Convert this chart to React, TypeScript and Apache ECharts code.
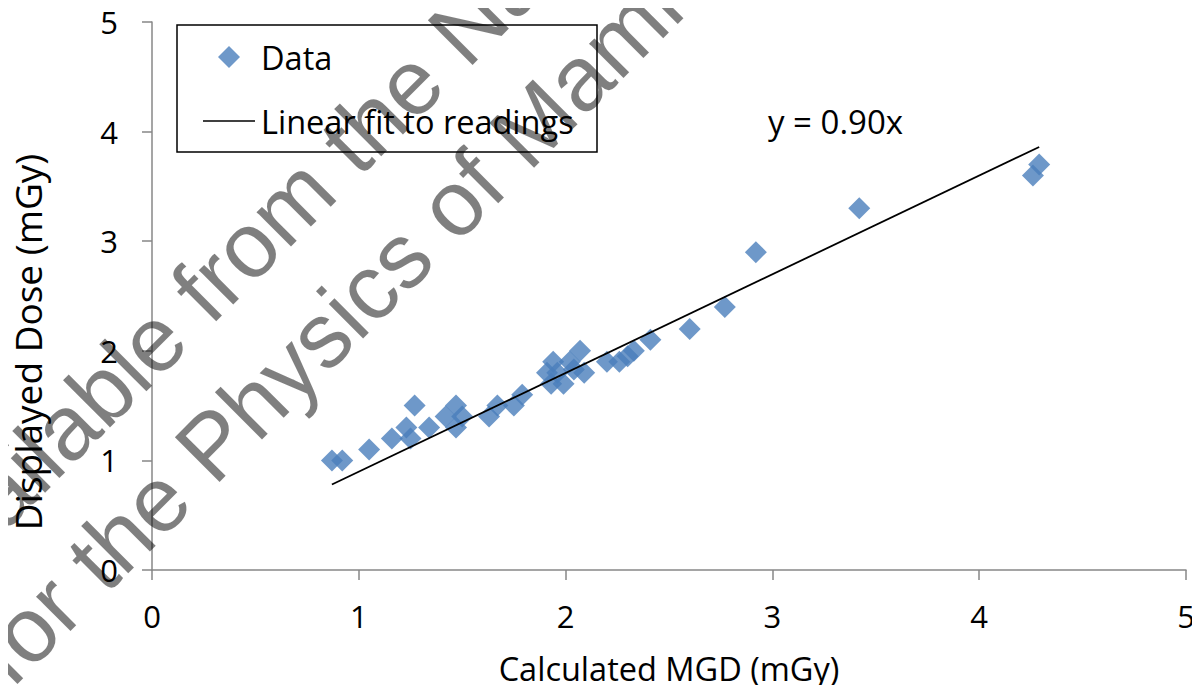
import React, { useEffect, useRef } from "react";
import * as echarts from "echarts";

const mgd = [0.87, 0.92, 1.05, 1.16, 1.23, 1.25, 1.27, 1.34, 1.42, 1.47, 1.47, 1.5, 1.63, 1.67, 1.75, 1.79, 1.91, 1.93, 1.94, 1.96, 1.99, 2.02, 2.04, 2.07, 2.09, 2.2, 2.26, 2.3, 2.33, 2.41, 2.6, 2.77, 2.92, 3.42, 4.26, 4.29];
const displayed = [1.0, 1.0, 1.1, 1.2, 1.3, 1.2, 1.5, 1.3, 1.4, 1.5, 1.3, 1.4, 1.4, 1.5, 1.5, 1.6, 1.8, 1.7, 1.9, 1.8, 1.7, 1.9, 1.83, 2.0, 1.8, 1.9, 1.9, 1.95, 2.0, 2.1, 2.2, 2.4, 2.9, 3.3, 3.6, 3.7];
const fitX = [0.87, 4.29];
const fitY = [0.78, 3.86];
const equationLabel = "y = 0.90x";
const xTitle = "Calculated MGD (mGy)";
const yTitle = "Displayed Dose (mGy)";
const watermark1 = "Available from the National Coordinating Centre";
const watermark2 = "for the Physics of Mammography";

const FONT = "'Open Sans', Lato, sans-serif";
const WM_FONT = "'Liberation Sans', Arial, sans-serif";

export default function App() {
  const ref = useRef<HTMLDivElement>(null);
  useEffect(() => {
    if (!ref.current) return;
    const chart = echarts.init(ref.current, null, { renderer: "svg" });
    const wmSize = 92;
    const rot = Math.PI / 4;
    const off = wmSize * 0.21 * Math.SQRT1_2;
    chart.setOption({
      animation: false,
      textStyle: { fontFamily: FONT },
      grid: { left: 152, right: 14, top: 22, bottom: 123, containLabel: false },
      legend: {
        orient: "vertical",
        left: 203,
        top: 40,
        padding: 0,
        itemWidth: 52,
        itemHeight: 22,
        itemGap: 30,
        symbolKeepAspect: true,
        textStyle: { fontFamily: FONT, fontSize: 32.5, color: "#000", lineHeight: 34, padding: [0, 0, 0, 1] },
        data: [
          { name: "Data", icon: "path://M0,-1L1,0L0,1L-1,0Z", itemStyle: { color: "#4A7EBB" } },
          { name: "Linear fit to readings", icon: "path://M0,0H52V1.6H0Z", itemStyle: { color: "#000" } },
        ],
      },
      xAxis: {
        type: "value",
        min: 0,
        max: 5,
        interval: 1,
        name: xTitle,
        nameLocation: "middle",
        nameGap: 82,
        nameTextStyle: { fontFamily: FONT, fontSize: 32.5, color: "#000" },
        axisLine: { lineStyle: { color: "#878787", width: 1.5 } },
        axisTick: { show: true, length: 10, lineStyle: { color: "#878787", width: 1.5 } },
        axisLabel: { fontFamily: FONT, fontSize: 31, color: "#000", margin: 30 },
        splitLine: { show: false },
      },
      yAxis: {
        type: "value",
        min: 0,
        max: 5,
        interval: 1,
        axisLine: { show: true, lineStyle: { color: "#878787", width: 1.5 } },
        axisTick: { show: true, length: 10, lineStyle: { color: "#878787", width: 1.5 } },
        axisLabel: { fontFamily: FONT, fontSize: 31, color: "#000", margin: 34 },
        splitLine: { show: false },
      },
      series: [
        {
          name: "Data",
          type: "scatter",
          symbol: "diamond",
          symbolSize: 22,
          itemStyle: { color: "#4A7EBB" },
          data: mgd.map((x, i) => [x, displayed[i]]),
          z: 3,
        },
        {
          name: "Linear fit to readings",
          type: "line",
          showSymbol: false,
          symbol: "none",
          lineStyle: { color: "#000", width: 1.8 },
          itemStyle: { color: "#000" },
          data: fitX.map((x, i) => [x, fitY[i]]),
          z: 4,
        },
      ],
      graphic: [
        {
          type: "rect",
          shape: { x: 177, y: 25, width: 420, height: 127 },
          style: { fill: "none", stroke: "#000", lineWidth: 1.5 },
          z: 10,
        },
        {
          type: "text",
          x: 768,
          y: 121,
          style: { text: equationLabel, fontFamily: FONT, fontSize: 33, fill: "#000", align: "left", verticalAlign: "middle" },
          z: 10,
        },
        {
          type: "text",
          x: 27,
          y: 342,
          rotation: Math.PI / 2,
          style: { text: yTitle, fontFamily: FONT, fontSize: 37, fill: "#000", align: "center", verticalAlign: "middle" },
          z: 10,
        },
        {
          type: "text",
          x: -74 + off,
          y: 604 + off,
          rotation: rot,
          style: { text: watermark1, fontFamily: WM_FONT, fontSize: wmSize, fill: "rgba(0,0,0,0.5)", align: "left", verticalAlign: "bottom" },
          z: 100,
          silent: true,
        },
        {
          type: "text",
          x: 8 + off,
          y: 686 + off,
          rotation: rot,
          style: { text: watermark2, fontFamily: WM_FONT, fontSize: wmSize, fill: "rgba(0,0,0,0.5)", align: "left", verticalAlign: "bottom" },
          z: 100,
          silent: true,
        },
      ],
    });
    return () => chart.dispose();
  }, []);
  return <div ref={ref} style={{ width: 1200, height: 693, margin: -8 }} />;
}
